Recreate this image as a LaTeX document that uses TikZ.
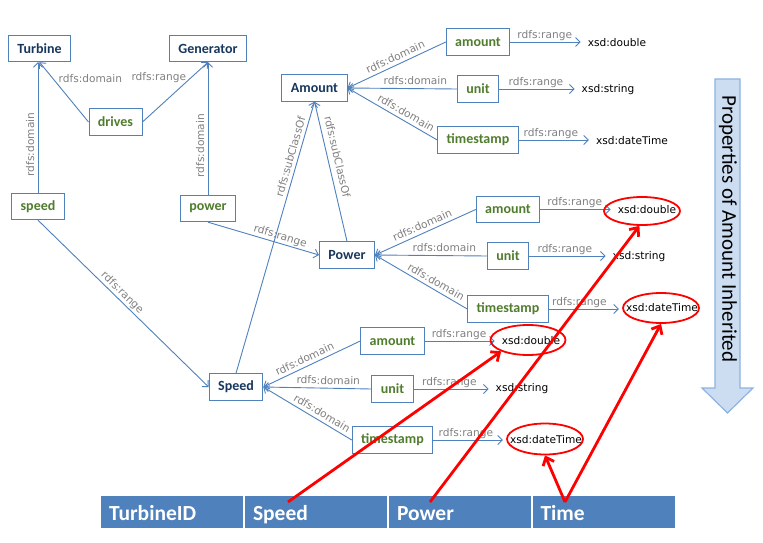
\documentclass[tikz,border=0pt]{standalone}
\usepackage{fontspec}
\setmainfont{DejaVu Sans}
\newfontfamily\calib{Carlito}
\usetikzlibrary{arrows.meta,shapes.geometric}
\definecolor{boxblue}{RGB}{79,129,189}
\definecolor{clsnavy}{RGB}{23,55,94}
\definecolor{propgreen}{RGB}{80,125,45}
\definecolor{lblgray}{RGB}{128,128,128}
\definecolor{arrfill}{RGB}{204,221,242}
\definecolor{arredge}{RGB}{141,179,226}
\definecolor{barblue}{RGB}{79,129,189}
\tikzset{
 box/.style={draw=boxblue, fill=white, line width=0.9pt, font=\calib\bfseries\fontsize{14}{16}\selectfont, inner xsep=9pt, inner ysep=0pt, minimum height=26.5pt},
 cls/.style={box, text=clsnavy},
 prop/.style={box, text=propgreen},
 lbl/.style={font=\fontsize{10.6}{12}\selectfont, text=lblgray, inner sep=1pt, text depth=2.5pt},
 xsd/.style={font=\fontsize{10.6}{12}\selectfont, text=black, inner sep=4pt},
 conn/.style={draw=boxblue, line width=0.9pt, -{Straight Barb[length=4.5pt,width=9pt]}},
 rng/.style={conn, shorten >=3pt},
 hl/.style={draw=red, line width=1.8pt, ellipse, inner sep=0pt},
 redarr/.style={draw=red, line width=2.8pt, -{Straight Barb[length=7pt,width=12pt]}},
 cell/.style={fill=barblue, text=white, font=\calib\bfseries\fontsize{21.5}{24}\selectfont, minimum height=32pt, text width=126pt, inner xsep=8pt, inner ysep=0pt, align=left, text height=20pt, text depth=4pt},
}
\begin{document}
\begin{tikzpicture}[x=1pt,y=-1pt]
\fill[white] (0,0) rectangle (763,543);
\useasboundingbox (0,0) rectangle (763,543);

% inheritance arrow
\draw[fill=arrfill, draw=arredge, line width=1.2pt] (715,79) -- (740,79) -- (740,388) -- (753,388) -- (727.5,413) -- (702,388) -- (715,388) -- cycle;
\node[font=\calib\fontsize{21}{24}\selectfont, rotate=-90, inner sep=0pt] (inh) at (728,229) {Properties of Amount Inherited};

% classes and properties
\node[cls] (Turbine) at (39.5,48.5) {Turbine};
\node[cls] (Generator) at (208,48.5) {Generator};
\node[prop] (drives) at (115.5,122) {drives};
\node[prop] (speed) at (38,206.5) {speed};
\node[prop] (power) at (208,208.5) {power};
\node[cls] (Amount) at (314.5,88) {Amount};
\node[cls] (Power) at (347,255) {Power};
\node[cls] (Speed) at (236,387) {Speed};

\node[prop] (amountA) at (478,42) {amount};
\node[prop] (unitA) at (478,89) {unit};
\node[prop] (tsA) at (478,140) {timestamp};
\node[prop] (amountP) at (508,209.5) {amount};
\node[prop] (unitP) at (508,256) {unit};
\node[prop] (tsP) at (508,309) {timestamp};
\node[prop] (amountS) at (392.5,341) {amount};
\node[prop] (unitS) at (392.5,389) {unit};
\node[prop] (tsS) at (392.5,440) {timestamp};

% datatypes
\node[xsd] (xA1) at (617,43) {xsd:double};
\node[xsd] (xA2) at (608,90) {xsd:string};
\node[xsd] (xA3) at (632,141) {xsd:dateTime};
\node[xsd] (xP1) at (647,210) {xsd:double};
\node[xsd] (xP2) at (639,257) {xsd:string};
\node[xsd] (xP3) at (662,308) {xsd:dateTime};
\node[xsd] (xS1) at (531,341) {xsd:double};
\node[xsd] (xS2) at (522,389) {xsd:string};
\node[xsd] (xS3) at (546,440) {xsd:dateTime};

% left part connectors
\draw[conn] (speed.north) -- (speed.north |- Turbine.south) node[lbl,sloped,above,pos=0.37]{rdfs:domain};
\draw[conn] (power.north) -- (power.north |- Generator.south) node[lbl,sloped,above,pos=0.37]{rdfs:domain};
\draw[conn] (drives.west) -- (Turbine.south) node[lbl,pos=0.7,anchor=west,xshift=3pt]{rdfs:domain};
\draw[conn] (drives.east) -- (Generator.south) node[lbl,pos=0.733,anchor=east,xshift=-3pt]{rdfs:range};
\draw[conn] (speed.south) -- (Speed.west) node[lbl,sloped,above,pos=0.465]{rdfs:range};
\draw[conn] (power.south) -- (Power.west) node[lbl,sloped,above,pos=0.633]{rdfs:range};
\draw[conn] (Speed.north) -- (Amount.south) node[lbl,sloped,above,pos=0.79]{rdfs:subClassOf};
\draw[conn] (Power.north) -- (Amount.south) node[lbl,sloped,above=2pt,pos=0.59]{rdfs:subClassOf};

% Amount group
\draw[conn] (amountA.west) -- (Amount.east) node[lbl,sloped,above,pos=0.48]{rdfs:domain};
\draw[conn] (unitA.west) -- (Amount.east) node[lbl,sloped,above,pos=0.38]{rdfs:domain};
\draw[conn] (tsA.west) -- (Amount.east) node[lbl,sloped,above,pos=0.39]{rdfs:domain};
\draw[rng] (amountA.east) -- (amountA.east -| xA1.west) node[lbl,above,pos=0.47]{rdfs:range};
\draw[rng] (unitA.east) -- (unitA.east -| xA2.west) node[lbl,above,pos=0.47]{rdfs:range};
\draw[rng] (tsA.east) -- (tsA.east -| xA3.west) node[lbl,above,pos=0.44]{rdfs:range};

% Power group
\draw[conn] (amountP.west) -- (Power.east) node[lbl,sloped,above,pos=0.5]{rdfs:domain};
\draw[conn] (unitP.west) -- (Power.east) node[lbl,sloped,above,pos=0.38]{rdfs:domain};
\draw[conn] (tsP.west) -- (Power.east) node[lbl,sloped,above,pos=0.38]{rdfs:domain};
\draw[rng] (amountP.east) -- (amountP.east -| xP1.west) node[lbl,above,pos=0.47]{rdfs:range};
\draw[rng] (unitP.east) -- (unitP.east -| xP2.west) node[lbl,above,pos=0.45]{rdfs:range};
\draw[rng] (tsP.east) -- (tsP.east -| xP3.west) node[lbl,above,pos=0.42]{rdfs:range};

% Speed group
\draw[conn] (amountS.west) -- (Speed.east) node[lbl,sloped,above,pos=0.54]{rdfs:domain};
\draw[conn] (unitS.west) -- (Speed.east) node[lbl,sloped,above,pos=0.4]{rdfs:domain};
\draw[conn] (tsS.west) -- (Speed.east) node[lbl,sloped,above,pos=0.38]{rdfs:domain};
\draw[rng] (amountS.east) -- (amountS.east -| xS1.west) node[lbl,above,pos=0.47]{rdfs:range};
\draw[rng] (unitS.east) -- (unitS.east -| xS2.west) node[lbl,above,pos=0.46]{rdfs:range};
\draw[rng] (tsS.east) -- (tsS.east -| xS3.west) node[lbl,above,pos=0.45]{rdfs:range};

% highlight ellipses
\node[hl, minimum width=76pt, minimum height=28pt] (eP1) at (642,211) {};
\node[hl, minimum width=76pt, minimum height=30pt] (eP3) at (661,308) {};
\node[hl, minimum width=75pt, minimum height=30pt] (eS1) at (528,340) {};
\node[hl, minimum width=76pt, minimum height=31pt] (eS3) at (545,439) {};

% table
\node[cell] (cTid) at (172,512) {TurbineID};
\node[cell] (cSpd) at (316,512) {Speed};
\node[cell] (cPow) at (460,512) {Power};
\node[cell] (cTim) at (603.5,512) {Time};

% red mapping arrows
\coordinate (rS) at (288,502);
\coordinate (rP) at (430,502);
\coordinate (rT) at (565,502);
\draw[redarr] (rS) -- (eS1.203);
\draw[redarr] (rP) -- (eP1.260);
\draw[redarr] (rT) -- (eS3.south);
\draw[redarr] (rT) -- (eP3.south);
\end{tikzpicture}
\end{document}
